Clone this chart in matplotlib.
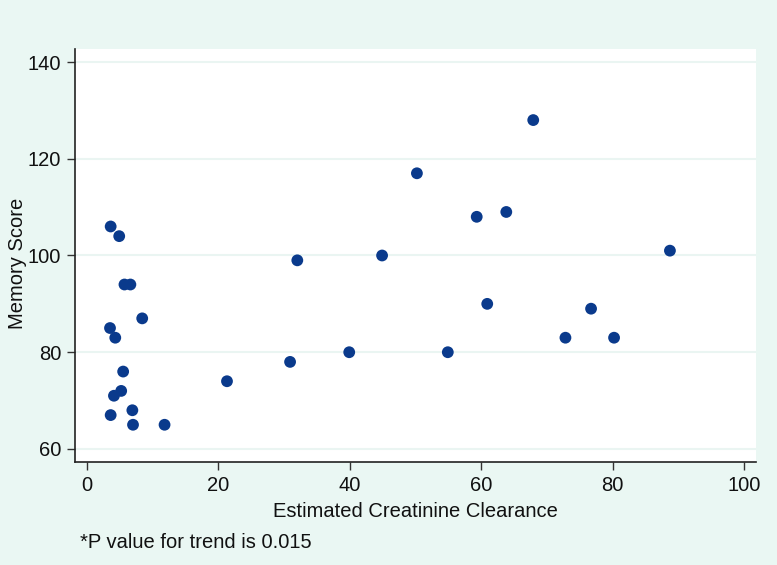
import matplotlib
matplotlib.use('Agg')
import matplotlib.pyplot as plt

# estimated creatinine clearance vs memory score
clearance = [3.6, 4.9, 5.7, 6.6, 8.4, 3.5, 4.3, 5.5, 5.2, 4.1, 3.6, 6.9, 7.0, 11.8,
             21.3, 30.9, 32.0, 39.9, 44.9, 50.2, 54.9, 59.3, 60.9, 63.8, 67.9,
             72.8, 76.7, 80.2, 88.7]
memory = [106, 104, 94, 94, 87, 85, 83, 76, 72, 71, 67, 68, 65, 65,
          74, 78, 99, 80, 100, 117, 80, 108, 90, 109, 128,
          83, 89, 83, 101]

xticks = [0, 20, 40, 60, 80, 100]
yticks = [60, 80, 100, 120, 140]

bg = '#eaf7f3'
plt.rcParams['font.family'] = ['Liberation Sans', 'DejaVu Sans']

fig = plt.figure(figsize=(7.77, 5.65), dpi=100, facecolor=bg)
ax = fig.add_axes([0.0965, 0.1823, 0.8765, 0.731])
ax.set_facecolor('white')

for y in yticks:
    ax.axhline(y, color='#eaf5f2', lw=1.5, zorder=0)

ax.scatter(clearance, memory, s=72, color='#0a3a8c', edgecolors='none', zorder=3)

ax.set_xlim(-1.83, 101.8)
ax.set_ylim(57.3, 142.7)
ax.set_xticks(xticks)
ax.set_yticks(yticks)

for s in ('top', 'right'):
    ax.spines[s].set_visible(False)
for s in ('left', 'bottom'):
    ax.spines[s].set_color('#222222')
    ax.spines[s].set_linewidth(1.2)

ax.tick_params(axis='both', direction='out', length=6, width=1, color='#333333',
               labelsize=14.5, labelcolor='#111111', pad=4)
ax.set_xlabel('Estimated Creatinine Clearance', fontsize=14.5, color='#111111', labelpad=5)
ax.set_ylabel('Memory Score', fontsize=14.5, color='#111111')
ax.yaxis.set_label_coords(-0.071, 0.48)

fig.text(80 / 777, 1 - 543 / 565, '*P value for trend is 0.015', fontsize=14.5,
         color='#111111', va='center', ha='left')

fig.savefig('out.png', dpi=100, facecolor=bg)
